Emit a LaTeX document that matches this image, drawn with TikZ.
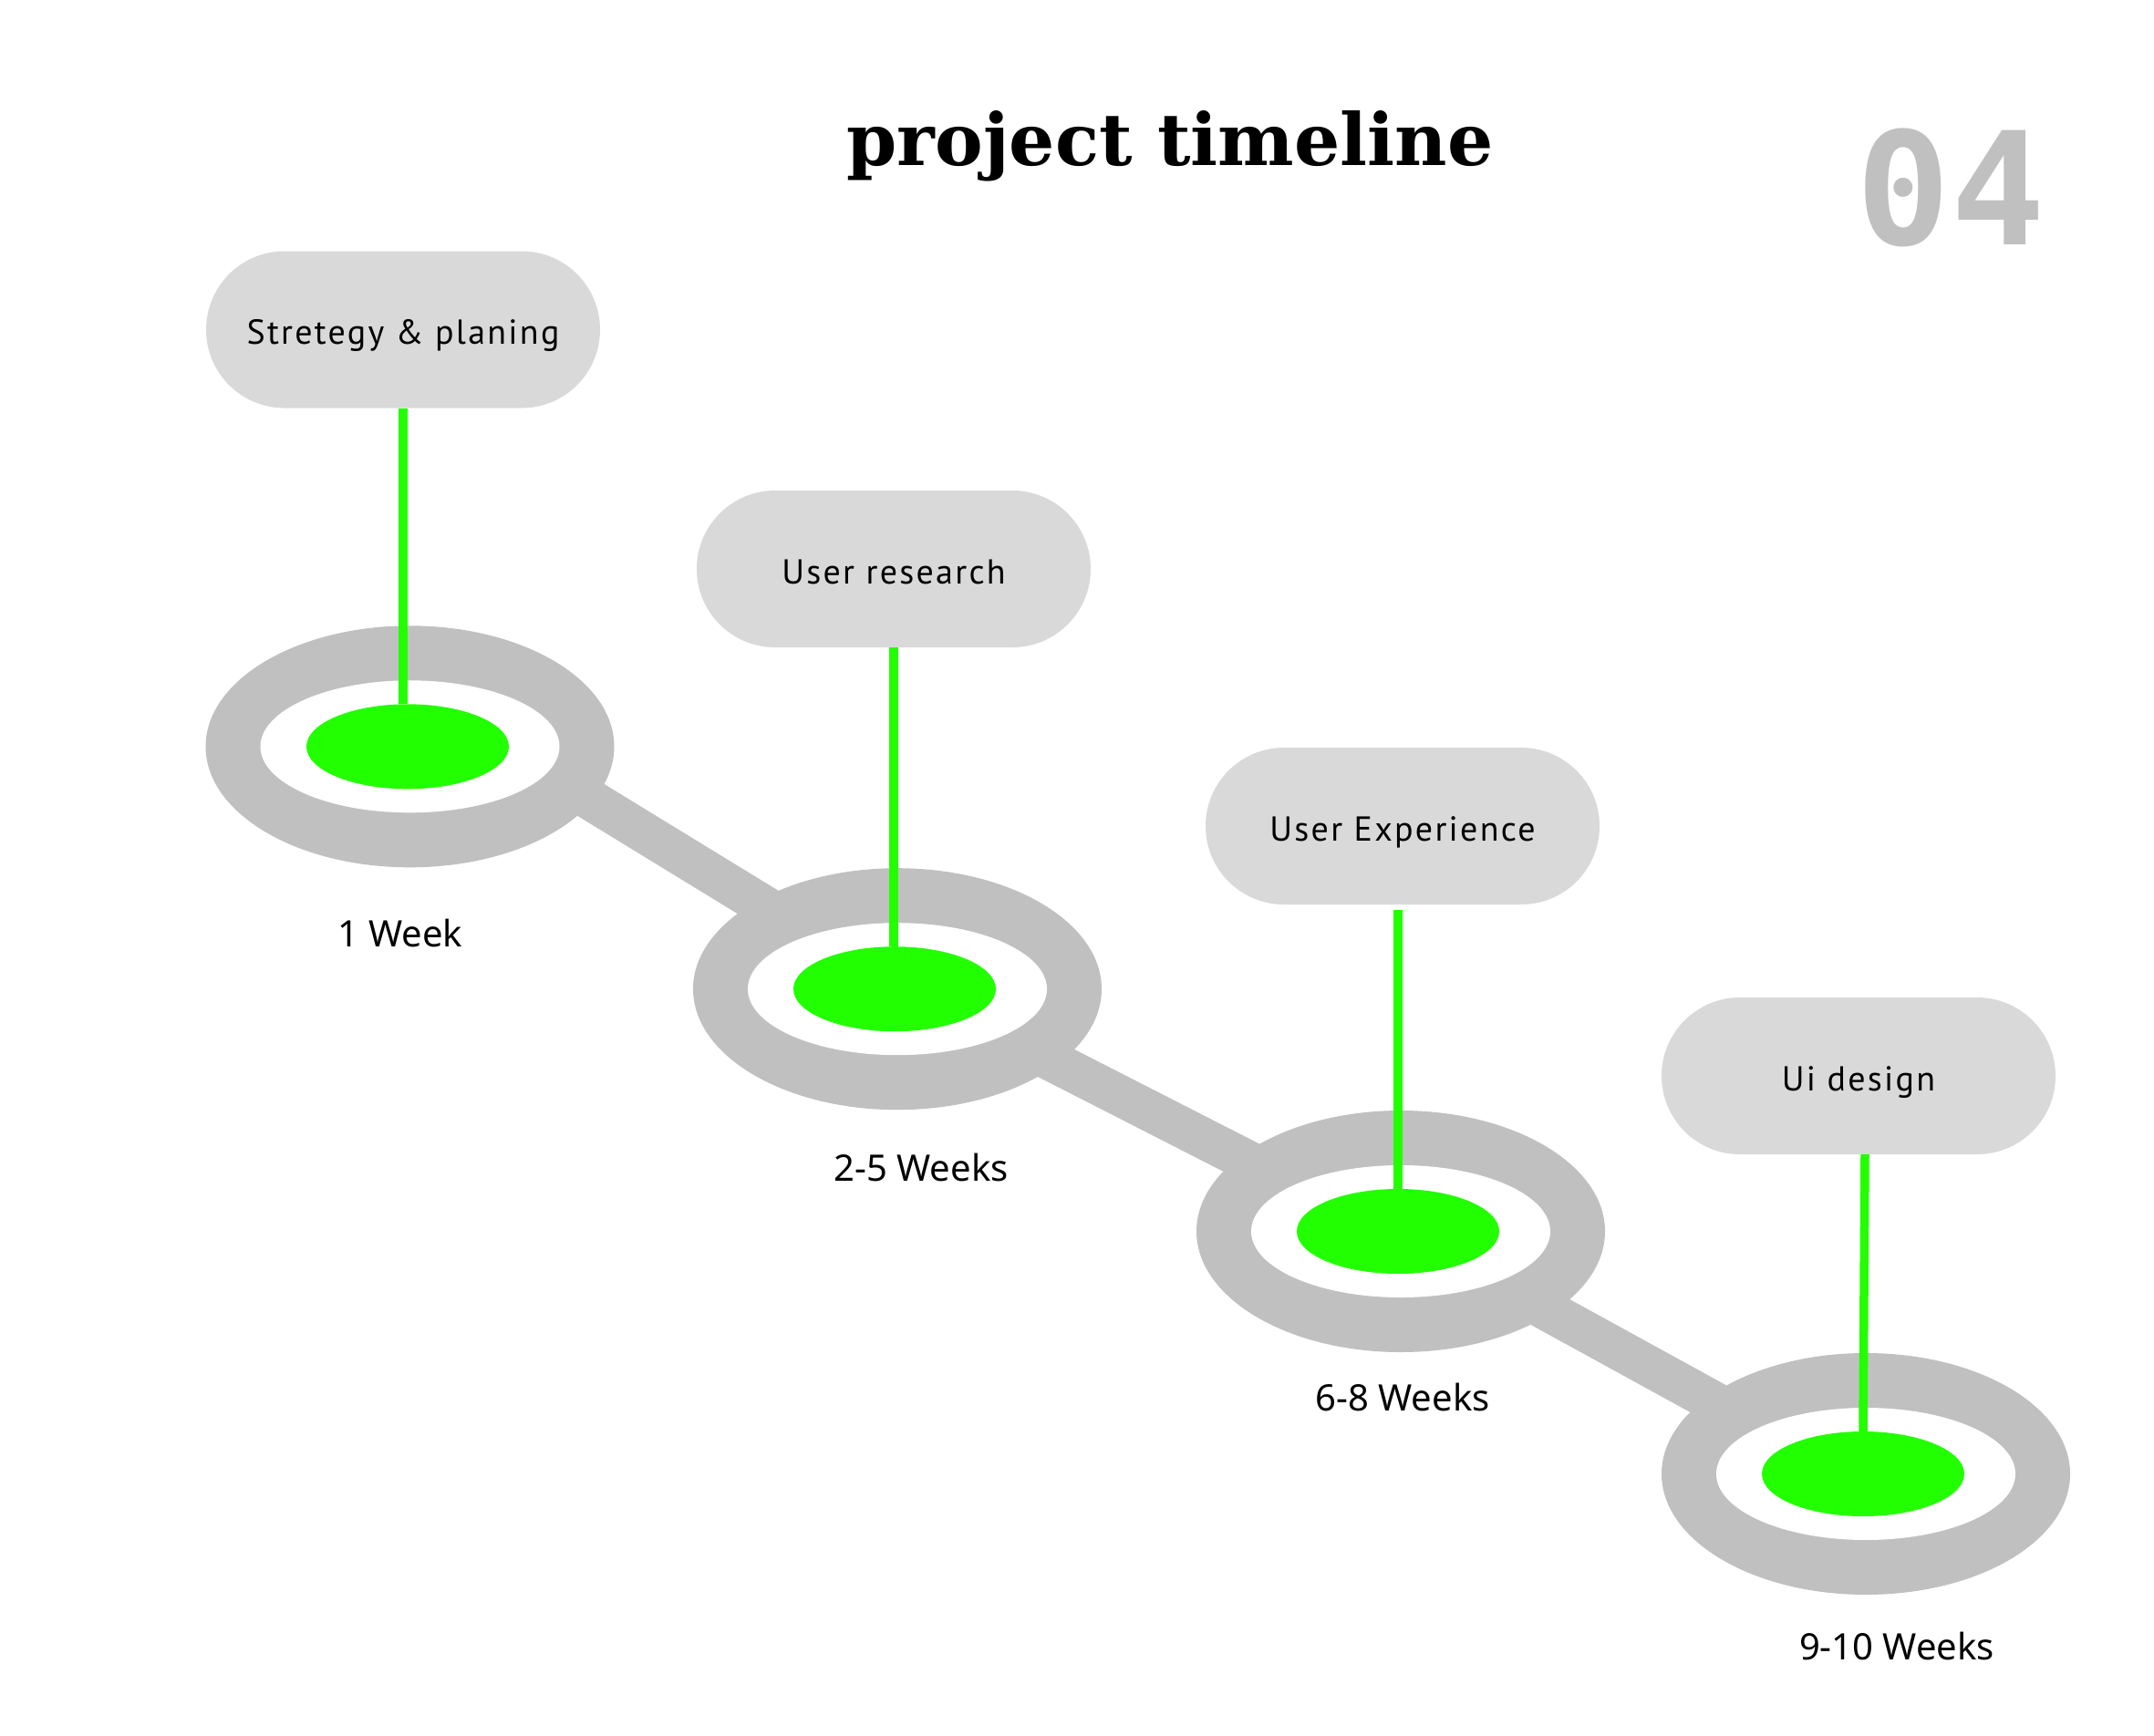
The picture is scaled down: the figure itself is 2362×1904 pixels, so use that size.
\documentclass[tikz,border=0pt]{standalone}
\usepackage{fontspec}
\setmainfont{Noto Sans}
\newfontfamily\boxfont{PT Sans}[LetterSpace=6]
\newfontfamily\labelfont{Noto Sans}
\newfontfamily\titlefont{DejaVu Serif}
\newfontfamily\numfont{DejaVu Sans Mono}
\usetikzlibrary{shapes.geometric,shapes.misc}
\definecolor{ringgray}{RGB}{192,192,192}
\definecolor{boxgray}{RGB}{217,217,217}
\definecolor{limegreen}{RGB}{34,255,0}
\begin{document}
\begin{tikzpicture}[x=1pt,y=-1pt,
  outerring/.style={ellipse, fill=ringgray, minimum width=448pt, minimum height=265pt, inner sep=0pt},
  innerring/.style={ellipse, fill=white, minimum width=328pt, minimum height=145pt, inner sep=0pt},
  greendot/.style={ellipse, fill=limegreen, minimum width=222pt, minimum height=93pt, inner sep=0pt},
  pill/.style={rounded rectangle, fill=boxgray, minimum width=432pt, minimum height=172pt, inner sep=0pt,
    font=\boxfont\fontsize{38}{40}\selectfont, text height=32pt, text depth=0pt},
  weeklabel/.style={anchor=base, font=\labelfont\fontsize{40}{44}\selectfont, inner sep=0pt},
  bandline/.style={draw=ringgray, line width=45pt},
  greenstem/.style={draw=limegreen, line width=9.5pt}
]
\fill[white] (0,0) rectangle (2362,1904);
\useasboundingbox (0,0) rectangle (2362,1904);

% title and number
\node[anchor=base, inner sep=0pt, font=\titlefont\bfseries\fontsize{79}{80}\selectfont] (title) at (1283,181) {project timeline};
\node[anchor=base, inner sep=0pt, text=ringgray, font=\numfont\bfseries\fontsize{172}{172}\selectfont] (num) at (2139,268) {04};

% band coordinates
\coordinate (a1) at (449.5,756);
\coordinate (a2) at (984,1083);
\coordinate (b2s) at (984,1077);
\coordinate (b3e) at (1536,1359);
\coordinate (c3s) at (1536,1349);
\coordinate (c4e) at (2046,1629);
\draw[bandline] (a1) -- (a2);
\draw[bandline] (b2s) -- (b3e);
\draw[bandline] (c3s) -- (c4e);

% rings
\node[outerring] (r1) at (449.5,818.8) {};
\node[outerring] (r2) at (984,1084.7) {};
\node[outerring] (r3) at (1536,1350.5) {};
\node[outerring] (r4) at (2046,1616.5) {};
\node[innerring] (w1) at (r1) {};
\node[innerring] (w2) at (r2) {};
\node[innerring] (w3) at (r3) {};
\node[innerring] (w4) at (r4) {};
\node[greendot] (g1) at (447,818.8) {};
\node[greendot] (g2) at (981,1084.7) {};
\node[greendot] (g3) at (1533,1350.5) {};
\node[greendot] (g4) at (2043,1616.5) {};

% boxes
\node[pill] (b1) at (442,361.5) {Stretegy \& planing};
\node[pill] (b2) at (980,624) {User research};
\node[pill] (b3) at (1538,906) {User Experience};
\node[pill] (b4) at (2038,1180) {Ui design};

% stems
\draw[greenstem] (b1.south) -- (b1.south |- g1.north);
\draw[greenstem] (b2.south) -- (b2.south |- g2.north);
\draw[greenstem] ([xshift=-5pt,yshift=-6pt]b3.south) -- (g3.north);
\draw[greenstem] ([xshift=7pt]b4.south) -- (g4.north);

% labels
\node[weeklabel] (l1) at (439,1038) {1 Week};
\node[weeklabel] (l2) at (1010,1295) {2-5 Weeks};
\node[weeklabel] (l3) at (1538,1547.7) {6-8 Weeks};
\node[weeklabel] (l4) at (2080,1820) {9-10 Weeks};
\end{tikzpicture}
\end{document}
